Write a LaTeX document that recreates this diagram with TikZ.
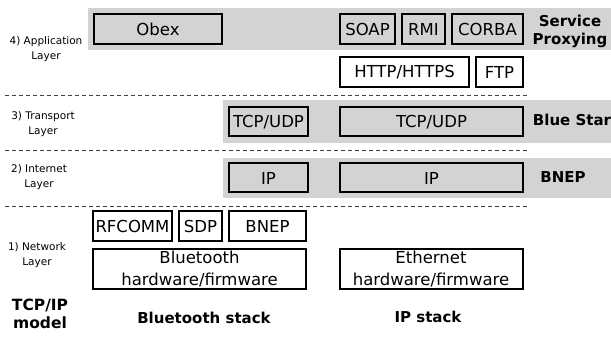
\documentclass[tikz,border=0pt]{standalone}
\usepackage{fontspec}
\setmainfont{DejaVu Sans}
\usetikzlibrary{positioning}
\definecolor{Band}{RGB}{211,211,211}

\begin{document}
\begin{tikzpicture}[x=1pt,y=-1pt,node distance=5pt,
 b/.style={draw,line width=2pt,inner sep=0pt,minimum height=30pt,align=center,font=\fontsize{16.5}{21.5}\selectfont},
 g/.style={b,fill=Band},
 lay/.style={align=center,font=\fontsize{10.5}{15.5}\selectfont},
 bold/.style={align=center,font=\fontsize{15}{18}\selectfont\bfseries},
 sep/.style={dash pattern=on 4pt off 3pt,line width=.8pt,black!75}]
\useasboundingbox (0,0) rectangle (611,339);
% grey bands
\fill[Band] (88,8) rectangle (611,50);
\fill[Band] (223,100) rectangle (611,143);
\fill[Band] (223,158) rectangle (611,198);
% layer separators
\coordinate (s1l) at (5,95);  \coordinate (s1r) at (528,95);
\coordinate (s2l) at (5,150); \coordinate (s2r) at (528,150);
\coordinate (s3l) at (5,206); \coordinate (s3r) at (528,206);
\draw[sep] (s1l)--(s1r);\draw[sep] (s2l)--(s2r);\draw[sep] (s3l)--(s3r);
% application
\node[g,minimum width=128pt] (obex) at (158,29) {Obex};
\node[g,minimum width=55pt] (soap) at (367.5,29) {SOAP};
\node[g,minimum width=43pt,right=of soap] (rmi) {RMI};
\node[g,minimum width=71pt,right=of rmi] (corba) {CORBA};
\node[b,minimum width=129pt] (http) at (404.5,72.5) {HTTP/HTTPS};
\node[b,minimum width=47pt,right=of http] (ftp) {FTP};
% transport
\node[g,minimum width=79pt,minimum height=29pt] (tcpb) at (268.5,122) {TCP/UDP};
\node[g,minimum width=183pt,minimum height=29pt] (tcpi) at (431.5,122) {TCP/UDP};
% internet
\node[g,minimum width=79pt,minimum height=29pt] (ipb) at (268.5,178) {IP};
\node[g,minimum width=183pt,minimum height=29pt] (ipi) at (431.5,178) {IP};
% network
\node[b,minimum width=79pt] (rfcomm) at (132.5,226.5) {RFCOMM};
\node[b,minimum width=43pt,right=of rfcomm] (sdp) {SDP};
\node[b,minimum width=77pt,right=of sdp] (bnep) {BNEP};
\node[b,minimum width=213pt,minimum height=40pt] (bthw) at (199.5,269) {Bluetooth\\hardware/firmware};
\node[b,minimum width=183pt,minimum height=40pt] (ethw) at (431,269) {Ethernet\\hardware/firmware};
% layer names
\node[lay] (l4) at (46,49) {4) Application\\Layer};
\node[lay] (l3) at (43,124) {3) Transport\\Layer};
\node[lay] (l2) at (39,177) {2) Internet\\Layer};
\node[lay] (l1) at (37,255) {1) Network\\Layer};
% right hand labels
\node[bold] (svc) at (570,31) {Service\\Proxying};
\node[bold] (bstar) at (572,120) {Blue Star};
\node[bold] (bnepl) at (563,177) {BNEP};
% bottom captions
\node[bold,font=\fontsize{15.5}{18}\selectfont\bfseries] (model) at (40,314) {TCP/IP\\model};
\node[bold] (btstack) at (204,318) {Bluetooth stack};
\node[bold] (ipstack) at (428,317) {IP stack};
\end{tikzpicture}
\end{document}
